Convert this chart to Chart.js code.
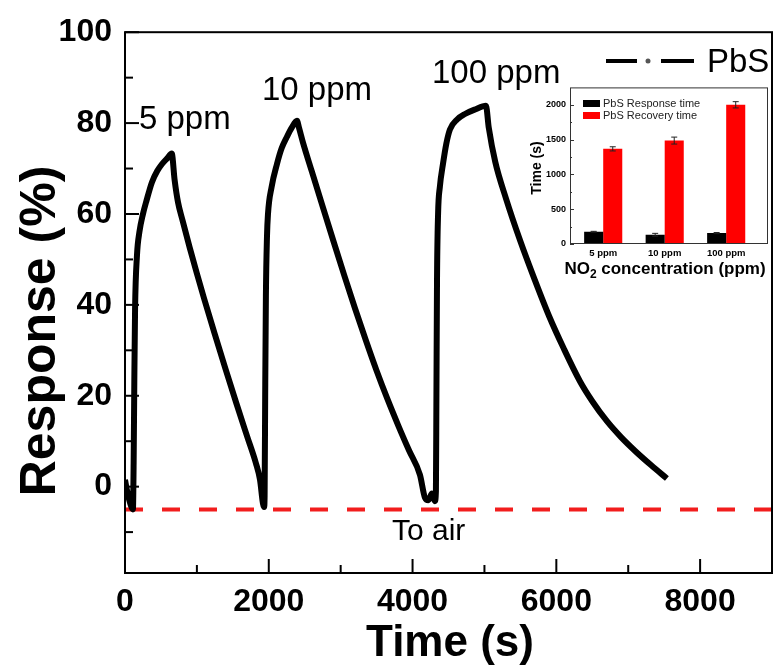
<!DOCTYPE html>
<html><head><meta charset="utf-8">
<script src="https://cdn.jsdelivr.net/npm/chart.js@4/dist/chart.umd.min.js"></script>
<style>
html,body{margin:0;padding:0;background:#fff;}
#wrap{position:relative;width:774px;height:669px;overflow:hidden;}
#main{position:absolute;left:0;top:0;}
#inset{position:absolute;left:515px;top:78px;}
</style></head><body>
<div id="wrap">
<canvas id="main" width="774" height="669"></canvas>
<canvas id="inset" width="259" height="210"></canvas>
</div>
<script>
// ---- main series: PbS response vs time ----
const timeS = [0,30,60,90,110,120,130,140,167,200,250,300,375,450,515,590,650,
  690,737,800,900,1000,1100,1250,1400,1550,1700,1820,1878,1919,1935,
  1942,1950,1960,1975,1989,2040,2114,2180,2253,2320,2392,
  2420,2476,2600,2750,2900,3050,3200,3350,3500,3650,3800,3950,4103,4172,4220,4270,4310,
  4325,4332,4340,4355,4380,4423,4470,4520,4620,4729,4870,5021,
  5060,5150,5300,5500,5700,5900,6100,6328,6500,6704,6900,7100,7320,7538];
const responsePct = [1.5,-1,-3,-4.5,-5,5,24,39,51,56,60,63,67,69.5,71,72.3,73.3,
  67.5,62.6,58.6,52.6,46.9,41.4,33.5,25.8,18.3,11,5.2,1.5,-3.7,-4.5,
  -2,20,42,55,60,66,71,74.5,77,79,80.5,
  79,75.7,69.3,61.6,54,46.5,39.2,32.2,25.5,19.3,13.5,8,2.6,-2.4,-3,-1.5,-3.2,
  -1,20,45,60,66,71,75.5,78.6,80.8,82,83,83.8,
  79,71.5,63.4,54,45.5,37.5,30.5,23.2,18.8,14.4,10.9,7.8,4.7,1.8];
const baselineY = -5;              // "To air" level
const xTickLabels = [0,2000,4000,6000,8000];
const yTickLabels = [0,20,40,60,80,100];
const concAnnotations = ['5 ppm','10 ppm','100 ppm'];

// ---- inset: response / recovery time ----
const concCategories = ['5 ppm','10 ppm','100 ppm'];
const responseTime = [176,133,157];
const responseErr = [6,20,8];
const recoveryTime = [1367,1486,2000];
const recoveryErr = [30,50,45];
const insetYTickLabels = [0,500,1000,1500,2000];

const FONT = '"Liberation Sans", Arial, Helvetica, sans-serif';

const mainDecor = {
  id:'mainDecor',
  afterDraw(chart){
    const {ctx, chartArea:a, scales:{x,y}} = chart;
    ctx.save();
    ctx.strokeStyle = '#000'; ctx.lineWidth = 2;
    ctx.strokeRect(a.left, a.top, a.right-a.left, a.bottom-a.top);
    for (let v=0; v<=9000; v+=1000){
      const px = x.getPixelForValue(v);
      const len = v%2000===0 ? 14 : 8;
      ctx.beginPath(); ctx.moveTo(px, a.bottom); ctx.lineTo(px, a.bottom-len); ctx.stroke();
    }
    for (let v=-10; v<=100; v+=10){
      const py = y.getPixelForValue(v);
      const len = v%20===0 ? 14 : 8;
      ctx.beginPath(); ctx.moveTo(a.left, py); ctx.lineTo(a.left+len, py); ctx.stroke();
    }
    ctx.fillStyle = '#000';
    ctx.font = 'bold 50px ' + FONT;
    ctx.textAlign = 'center'; ctx.textBaseline = 'middle';
    ctx.save(); ctx.translate(41, 331); ctx.rotate(-Math.PI/2);
    ctx.fillText('Response (%)', 0, 0); ctx.restore();
    ctx.font = 'bold 44px ' + FONT;
    ctx.fillText('Time (s)', 450, 644);
    ctx.font = '33px ' + FONT; ctx.textAlign = 'left'; ctx.textBaseline = 'alphabetic';
    ctx.fillText(concAnnotations[0], 139, 129);
    ctx.fillText(concAnnotations[1], 262, 100);
    ctx.fillText(concAnnotations[2], 432, 83);
    ctx.font = '30px ' + FONT;
    ctx.fillText('To air', 392, 540);
    ctx.lineWidth = 4; ctx.lineCap = 'butt';
    ctx.beginPath(); ctx.moveTo(606, 61); ctx.lineTo(637, 61); ctx.stroke();
    ctx.beginPath(); ctx.moveTo(661, 61); ctx.lineTo(694, 61); ctx.stroke();
    ctx.fillStyle = '#555';
    ctx.beginPath(); ctx.arc(648, 61, 2.5, 0, Math.PI*2); ctx.fill();
    ctx.fillStyle = '#000';
    ctx.font = '33px ' + FONT;
    ctx.fillText('PbS', 707, 72);
    ctx.restore();
  }
};

new Chart(document.getElementById('main'), {
  type:'scatter',
  data:{datasets:[
    {label:'PbS', data: timeS.map((t,i)=>({x:t, y:responsePct[i]})), showLine:true,
     borderColor:'#000', borderWidth:6, pointRadius:0, cubicInterpolationMode:'monotone', borderJoinStyle:'round'},
    {label:'To air', data:[{x:0,y:baselineY},{x:9000,y:baselineY}], showLine:true,
     borderColor:'#f21d1d', borderWidth:4, borderDash:[18,19], pointRadius:0}
  ]},
  options:{
    responsive:false, animation:false, devicePixelRatio:1,
    layout:{padding:{left:0, top:28, right:2, bottom:0}},
    plugins:{legend:{display:false}, tooltip:{enabled:false}},
    scales:{
      x:{type:'linear', min:0, max:9000,
         afterBuildTicks:s=>{s.ticks = xTickLabels.map(v=>({value:v}));},
         afterFit:s=>{s.height = 96;},
         grid:{display:false, drawTicks:false}, border:{display:false},
         ticks:{font:{family:FONT, size:32, weight:'bold'}, color:'#000', padding:10, maxRotation:0, autoSkip:false,
                callback:v=>String(v)}},
      y:{type:'linear', min:-19, max:100,
         afterBuildTicks:s=>{s.ticks = yTickLabels.map(v=>({value:v}));},
         afterFit:s=>{s.width = 125;},
         grid:{display:false, drawTicks:false}, border:{display:false},
         ticks:{font:{family:FONT, size:32, weight:'bold'}, color:'#000', padding:13, autoSkip:false,
                callback:v=>String(v)}}
    }
  },
  plugins:[mainDecor]
});

// ---- inset ----
const insetDecor = {
  id:'insetDecor',
  beforeDatasetsDraw(chart){
    const {ctx, chartArea:a} = chart;
    ctx.save(); ctx.fillStyle = '#fff';
    ctx.fillRect(a.left, a.top, a.right-a.left, a.bottom-a.top); ctx.restore();
  },
  afterDatasetsDraw(chart){
    const {ctx, chartArea:a, scales:{y}} = chart;
    ctx.save();
    ctx.strokeStyle = '#222'; ctx.lineWidth = 1;
    const errs = [responseErr, recoveryErr];
    [0,1].forEach(di=>{
      const meta = chart.getDatasetMeta(di);
      const vals = chart.data.datasets[di].data;
      meta.data.forEach((bar,i)=>{
        const v = vals[i].y, e = errs[di][i];
        const y1 = y.getPixelForValue(v+e), y2 = y.getPixelForValue(v-e);
        ctx.beginPath();
        ctx.moveTo(bar.x, y1); ctx.lineTo(bar.x, y2);
        ctx.moveTo(bar.x-3, y1); ctx.lineTo(bar.x+3, y1);
        ctx.moveTo(bar.x-3, y2); ctx.lineTo(bar.x+3, y2);
        ctx.stroke();
      });
    });
    ctx.strokeStyle = '#333'; ctx.lineWidth = 1;
    ctx.strokeRect(a.left+0.5, a.top+0.5, a.right-a.left-1, a.bottom-a.top-1);
    for (let v=0; v<=2000; v+=250){
      const py = Math.round(y.getPixelForValue(v))+0.5;
      const len = v%500===0 ? 4 : 2;
      ctx.beginPath(); ctx.moveTo(a.left, py); ctx.lineTo(a.left+len, py); ctx.stroke();
    }
    ctx.fillStyle = '#000'; ctx.fillRect(68, 22, 17, 7);
    ctx.fillStyle = '#ff0000'; ctx.fillRect(68, 34, 17, 7);
    ctx.fillStyle = '#222'; ctx.font = '11px ' + FONT;
    ctx.textAlign = 'left'; ctx.textBaseline = 'middle';
    ctx.fillText(chart.data.datasets[0].label, 88, 25.5);
    ctx.fillText(chart.data.datasets[1].label, 88, 37.5);
    ctx.fillStyle = '#000';
    ctx.font = 'bold 14px ' + FONT; ctx.textAlign = 'center';
    ctx.save(); ctx.translate(22, 90); ctx.rotate(-Math.PI/2);
    ctx.fillText('Time (s)', 0, 0); ctx.restore();
    ctx.textBaseline = 'alphabetic'; ctx.textAlign = 'left';
    const big = 'bold 17px ' + FONT, small = 'bold 12px ' + FONT;
    ctx.font = big; const w1 = ctx.measureText('NO').width;
    const rest = ' concentration (ppm)'; const w3 = ctx.measureText(rest).width;
    ctx.font = small; const w2 = ctx.measureText('2').width;
    let sx = 150 - (w1+w2+w3)/2, by = 196;
    ctx.font = big; ctx.fillText('NO', sx, by);
    ctx.font = small; ctx.fillText('2', sx+w1, by+4);
    ctx.font = big; ctx.fillText(rest, sx+w1+w2, by);
    ctx.restore();
  }
};

new Chart(document.getElementById('inset'), {
  type:'bar',
  data:{datasets:[
    {label:'PbS Response time', data: responseTime.map((v,i)=>({x:i+1, y:v})), backgroundColor:'#000'},
    {label:'PbS Recovery time', data: recoveryTime.map((v,i)=>({x:i+1, y:v})), backgroundColor:'#ff0000'}
  ]},
  options:{
    responsive:false, animation:false, devicePixelRatio:1,
    layout:{padding:{left:0, top:7, right:6, bottom:0}},
    plugins:{legend:{display:false}, tooltip:{enabled:false}},
    datasets:{bar:{categoryPercentage:0.62, barPercentage:1}},
    scales:{
      x:{type:'linear', min:0.46, max:3.68, offset:false,
         afterBuildTicks:s=>{s.ticks = [1,2,3].map(v=>({value:v}));},
         afterFit:s=>{s.height = 44;},
         grid:{display:false, drawTicks:false}, border:{display:false},
         ticks:{font:{family:FONT, size:9.5, weight:'bold'}, color:'#000', padding:4, maxRotation:0, autoSkip:false,
                callback:v=>concCategories[v-1]}},
      y:{type:'linear', min:0, max:2250,
         afterBuildTicks:s=>{s.ticks = insetYTickLabels.map(v=>({value:v}));},
         afterFit:s=>{s.width = 55;},
         grid:{display:false, drawTicks:false}, border:{display:false},
         ticks:{font:{family:FONT, size:9, weight:'bold'}, color:'#000', padding:4, autoSkip:false,
                callback:v=>String(v)}}
    }
  },
  plugins:[insetDecor]
});
</script>
</body></html>
